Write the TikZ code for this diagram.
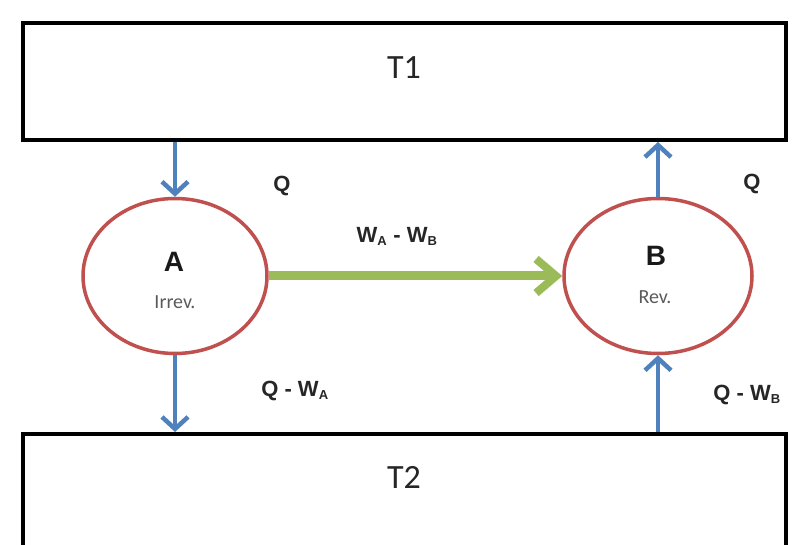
\documentclass[tikz,border=0pt]{standalone}
\usepackage{fontspec}
\setmainfont{Liberation Sans}
\newfontfamily\calib{Carlito}
\usetikzlibrary{arrows.meta,shapes.geometric}
\definecolor{ofred}{RGB}{192,80,77}
\definecolor{ofblue}{RGB}{79,129,189}
\definecolor{ofgreen}{RGB}{155,187,89}
\definecolor{txtgray}{RGB}{90,90,90}
\tikzset{
  reservoir/.style={draw=black, line width=4pt, rectangle, inner sep=0pt},
  engine/.style={draw=ofred, line width=3.5pt, ellipse, minimum width=184pt, minimum height=155pt, inner sep=0pt},
  heat/.style={draw=ofblue, line width=4pt, -{Straight Barb[length=12pt,width=26pt,line width=4.5pt]}},
  work/.style={draw=ofgreen, line width=9pt, -{Straight Barb[length=20pt,width=34pt,line width=8pt]}},
  reslabel/.style={font=\calib\fontsize{34}{34}\selectfont, text=black!85},
  flowlabel/.style={font=\bfseries\fontsize{22}{22}\selectfont, text=black!85},
  enginelabel/.style={font=\bfseries\fontsize{28}{28}\selectfont, text=black!90},
  kindlabel/.style={font=\calib\fontsize{20}{20}\selectfont, text=txtgray}
}
\newcommand{\lsub}[1]{\textsubscript{\fontsize{13}{13}\selectfont #1}}
\begin{document}
\begin{tikzpicture}[x=1pt,y=-1pt]
\useasboundingbox (0,0) rectangle (793,545);
\clip (0,0) rectangle (793,545);
\node[reservoir, minimum width=763pt, minimum height=117pt] (t1) at (404.5,81.5) {};
\node[reservoir, minimum width=763pt, minimum height=160pt] (t2) at (404.5,514) {};
\node[reslabel] (t1l) at (404,68) {T1};
\node[reslabel] (t2l) at (404,477) {T2};
\node[engine] (A) at (175,276) {};
\node[engine, minimum width=188pt] (B) at (658,276) {};
\node[enginelabel] (Al) at (174,262) {A};
\node[kindlabel] (Ak) at (175,302) {Irrev.};
\node[enginelabel] (Bl) at (656,256) {B};
\node[kindlabel] (Bk) at (655,297) {Rev.};
\draw[heat] (t1.south -| A.north) -- (A.north);
\draw[heat] (A.south) -- (t2.north -| A.south);
\draw[heat] (B.north) -- (t1.south -| B.north);
\draw[heat] (t2.north -| B.south) -- (B.south);
\draw[work] (A.east) -- (B.west);
\node[flowlabel] (q1) at (282,186) {Q};
\node[flowlabel] (q2) at (752,184) {Q};
\node[flowlabel] (w) at (397,236) {W\lsub{A} - W\lsub{B}};
\node[flowlabel] (qa) at (295,391) {Q - W\lsub{A}};
\node[flowlabel] (qb) at (747,395) {Q - W\lsub{B}};
\end{tikzpicture}
\end{document}
